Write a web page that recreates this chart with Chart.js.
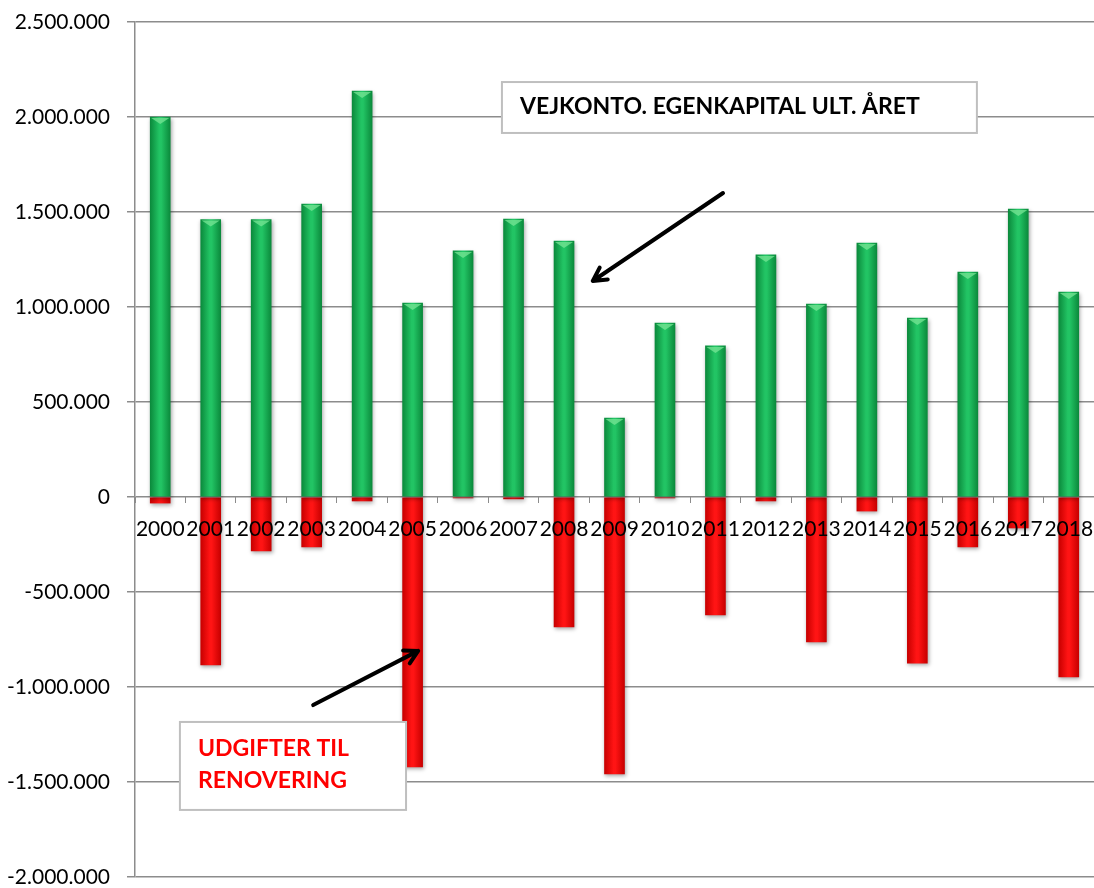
<!DOCTYPE html>
<html>
<head>
<meta charset="utf-8">
<script src="https://cdn.jsdelivr.net/npm/chart.js@4.4.1/dist/chart.umd.min.js"></script>
<style>
  html, body { margin: 0; padding: 0; background: #fff; }
  #wrap { width: 1094px; height: 888px; position: relative; }
</style>
</head>
<body>
<div id="wrap"><canvas id="c" width="1094" height="888"></canvas></div>
<script>
// ---- data ----
const years = ['2000','2001','2002','2003','2004','2005','2006','2007','2008','2009',
               '2010','2011','2012','2013','2014','2015','2016','2017','2018'];
const equity = [2000000, 1460000, 1460000, 1542000, 2137000, 1021000, 1295000, 1463000, 1347000, 416000,
                916000, 795000, 1274000, 1016000, 1337000, 942000, 1184000, 1516000, 1079000];
const renovation = [-32000, -884000, -284000, -263000, -21000, -1421000, -5000, -10000, -684000, -1458000,
                    -5000, -621000, -21000, -763000, -74000, -874000, -263000, -163000, -947000];
const yMin = -2000000, yMax = 2500000, yStep = 500000;
const equityLabel = 'VEJKONTO. EGENKAPITAL ULT. ÅRET';
const renovationLabel = ['UDGIFTER TIL', 'RENOVERING'];

// ---- helpers ----
function fmt(v) {
  const neg = v < 0;
  const s = Math.abs(v).toString().replace(/\B(?=(\d{3})+(?!\d))/g, '.');
  return (neg ? '-' : '') + s;
}
const BAR_W = 20;
function barGradient(ctx, stops) {
  const chart = ctx.chart;
  if (!chart.chartArea || !chart.scales.x) return stops[1];
  const x = chart.scales.x.getPixelForValue(ctx.dataIndex);
  const g = chart.ctx.createLinearGradient(x - BAR_W / 2, 0, x + BAR_W / 2, 0);
  g.addColorStop(0, stops[0]);
  g.addColorStop(0.45, stops[1]);
  g.addColorStop(0.55, stops[1]);
  g.addColorStop(1, stops[2]);
  return g;
}

const shadowPlugin = {
  id: 'shadow',
  beforeDatasetDraw(chart) {
    const c = chart.ctx;
    c.save();
    c.shadowColor = 'rgba(0,0,0,0.35)';
    c.shadowBlur = 4;
    c.shadowOffsetX = 1;
    c.shadowOffsetY = 2;
  },
  afterDatasetDraw(chart, args) {
    const c = chart.ctx;
    c.restore();
    if (args.index === 0) {
      const meta = chart.getDatasetMeta(0);
      c.save();
      meta.data.forEach(el => {
        const l = el.x - el.width / 2, r = el.x + el.width / 2;
        c.fillStyle = 'rgba(120,230,150,0.75)';
        c.beginPath();
        c.moveTo(l + 1, el.y + 1);
        c.lineTo(r - 1, el.y + 1);
        c.lineTo(el.x, el.y + 7);
        c.closePath();
        c.fill();
      });
      c.restore();
    }
  }
};

function arrow(c, x1, y1, x2, y2) {
  c.save();
  c.strokeStyle = '#000';
  c.lineWidth = 4;
  c.lineCap = 'round';
  c.lineJoin = 'round';
  c.beginPath();
  c.moveTo(x1, y1);
  c.lineTo(x2, y2);
  const a = Math.atan2(y2 - y1, x2 - x1);
  const L = 15;
  c.moveTo(x2 - L * Math.cos(a - 0.5), y2 - L * Math.sin(a - 0.5));
  c.lineTo(x2, y2);
  c.lineTo(x2 - L * Math.cos(a + 0.5), y2 - L * Math.sin(a + 0.5));
  c.stroke();
  c.restore();
}

const annotationPlugin = {
  id: 'notes',
  afterDraw(chart) {
    const c = chart.ctx, xs = chart.scales.x, ys = chart.scales.y;
    const X = i => xs.getPixelForValue(0) + i * (xs.getPixelForValue(1) - xs.getPixelForValue(0));
    const Y = v => ys.getPixelForValue(v);
    c.save();
    let l = X(6.77), r = X(16.18), t = Y(2184000), b = Y(1916000);
    c.fillStyle = '#fff';
    c.fillRect(l, t, r - l, b - t);
    c.strokeStyle = '#bfbfbf';
    c.lineWidth = 2;
    c.strokeRect(l, t, r - l, b - t);
    c.fillStyle = '#000';
    c.font = 'bold 23px Lato';
    c.textBaseline = 'middle';
    c.textAlign = 'left';
    c.fillText(equityLabel, l + 18, (t + b) / 2 - 1);
    l = X(0.39); r = X(4.87); t = Y(-1184000); b = Y(-1647000);
    c.fillStyle = '#fff';
    c.fillRect(l, t, r - l, b - t);
    c.strokeRect(l, t, r - l, b - t);
    c.fillStyle = '#ff0000';
    c.font = 'bold 23px Lato';
    c.fillText(renovationLabel[0], l + 18, Y(-1326000));
    c.fillText(renovationLabel[1], l + 18, Y(-1494000));
    c.restore();
    arrow(c, X(11.15), Y(1600000), X(8.57), Y(1137000));
    arrow(c, X(3.03), Y(-1095000), X(5.11), Y(-810000));
  }
};

function draw() {
  new Chart(document.getElementById('c'), {
    type: 'bar',
    data: {
      labels: years,
      datasets: [
        {
          label: 'Egenkapital',
          data: equity,
          backgroundColor: ctx => barGradient(ctx, ['#0b8a3c', '#22c464', '#0b8a3c']),
          borderWidth: 0,
          barThickness: BAR_W
        },
        {
          label: 'Renovering',
          data: renovation,
          backgroundColor: ctx => barGradient(ctx, ['#c80000', '#ff1414', '#c80000']),
          borderWidth: 0,
          barThickness: BAR_W
        }
      ]
    },
    options: {
      responsive: false,
      animation: false,
      layout: { padding: { top: 22, right: 0, bottom: 11, left: 0 } },
      plugins: { legend: { display: false }, tooltip: { enabled: false } },
      scales: {
        x: {
          stacked: true,
          position: { y: 0 },
          offset: true,
          afterFit(scale) { scale.height = 0; scale.paddingLeft = 0; scale.paddingRight = 0; scale.paddingTop = 0; scale.paddingBottom = 0; },
          grid: { offset: true, drawOnChartArea: false, tickLength: 6, color: '#8c8c8c', lineWidth: 1 },
          border: { display: false },
          ticks: { z: 1, color: '#000', font: { family: 'Lato', size: 21 }, maxRotation: 0, autoSkip: false, padding: 14 }
        },
        y: {
          stacked: true,
          min: yMin,
          max: yMax,
          afterFit(scale) { scale.width = 135; scale.paddingTop = 0; scale.paddingBottom = 0; },
          ticks: { stepSize: yStep, color: '#000', font: { family: 'Lato', size: 21 }, padding: 17, callback: v => fmt(v) },
          grid: { color: '#8c8c8c', lineWidth: 1.5, tickLength: 8 },
          border: { display: true, color: '#8c8c8c', width: 1.5 }
        }
      }
    },
    plugins: [shadowPlugin, annotationPlugin]
  });
}
Promise.all([document.fonts.load('21px Lato'), document.fonts.load('bold 23px Lato')]).then(draw, draw);
</script>
</body>
</html>
